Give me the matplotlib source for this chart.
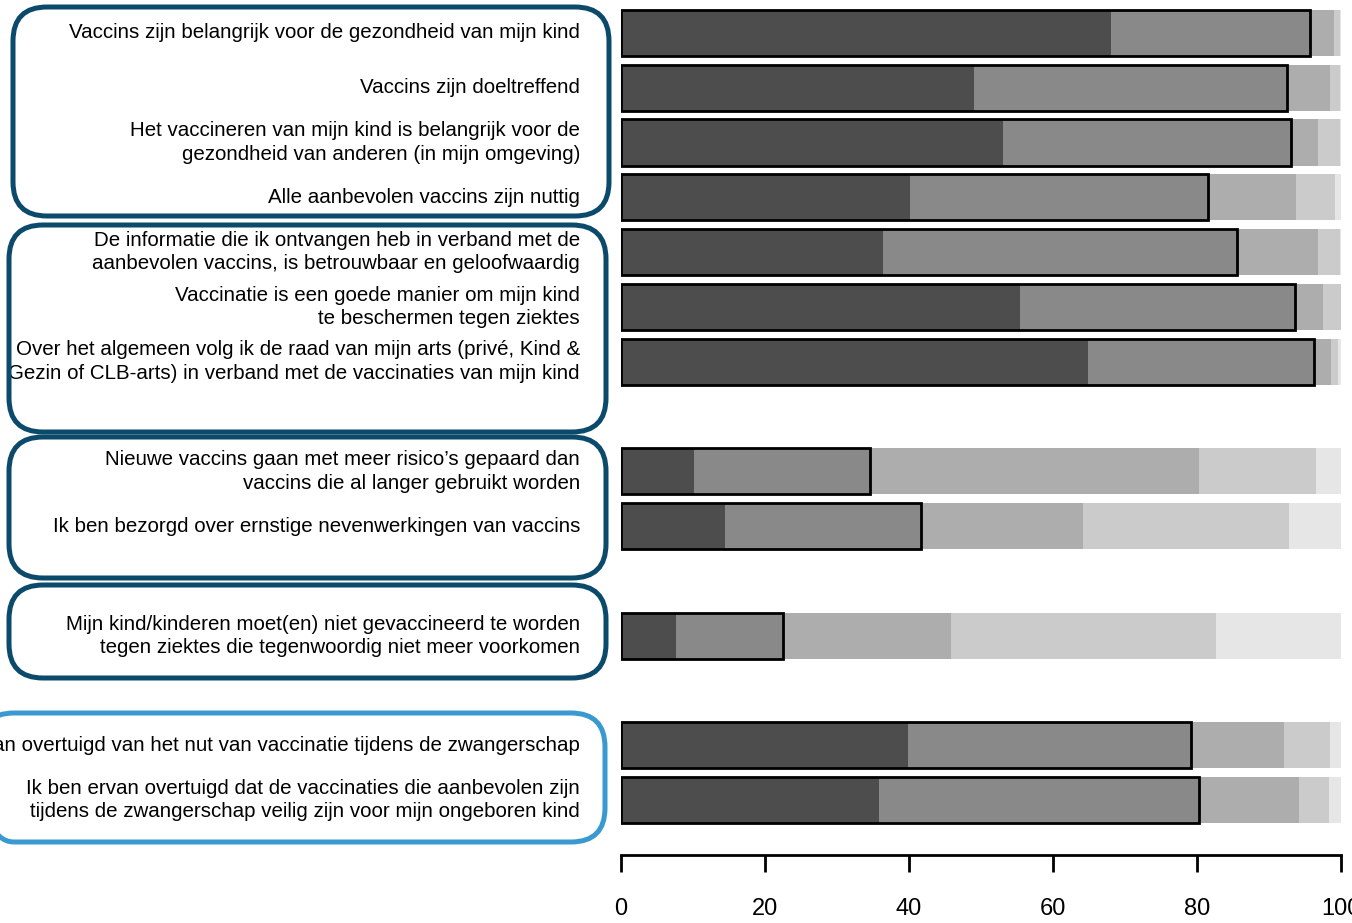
import numpy as np
import matplotlib.pyplot as plt
from matplotlib.patches import FancyBboxPatch

# statements (top to bottom)
labels = [
    "Vaccins zijn belangrijk voor de gezondheid van mijn kind",
    "Vaccins zijn doeltreffend",
    "Het vaccineren van mijn kind is belangrijk voor de\ngezondheid van anderen (in mijn omgeving)",
    "Alle aanbevolen vaccins zijn nuttig",
    "De informatie die ik ontvangen heb in verband met de\naanbevolen vaccins, is betrouwbaar en geloofwaardig",
    "Vaccinatie is een goede manier om mijn kind\nte beschermen tegen ziektes",
    "Over het algemeen volg ik de raad van mijn arts (privé, Kind &\nGezin of CLB-arts) in verband met de vaccinaties van mijn kind",
    "Nieuwe vaccins gaan met meer risico’s gepaard dan\nvaccins die al langer gebruikt worden",
    "Ik ben bezorgd over ernstige nevenwerkingen van vaccins",
    "Mijn kind/kinderen moet(en) niet gevaccineerd te worden\ntegen ziektes die tegenwoordig niet meer voorkomen",
    "Ik ben ervan overtuigd van het nut van vaccinatie tijdens de zwangerschap",
    "Ik ben ervan overtuigd dat de vaccinaties die aanbevolen zijn\ntijdens de zwangerschap veilig zijn voor mijn ongeboren kind",
]
slots = [0, 1, 2, 3, 4, 5, 6, 8, 9, 11, 13, 14]

# percentages: helemaal akkoord, akkoord, neutraal, niet akkoord, helemaal niet akkoord
s1 = [68.1, 49.0, 53.0, 40.1, 36.4, 55.4, 64.8, 10.1, 14.5, 7.7, 39.8, 35.9]
s2 = [27.6, 43.5, 40.0, 41.4, 49.2, 38.2, 31.5, 24.5, 27.1, 14.8, 39.3, 44.4]
s3 = [3.3, 6.0, 3.8, 12.2, 11.2, 3.9, 2.3, 45.7, 22.6, 23.3, 13.0, 13.8]
s4 = [0.8, 1.3, 3.0, 5.5, 3.0, 2.5, 1.0, 16.2, 28.6, 36.9, 6.4, 4.2]
s5 = [0.2, 0.2, 0.2, 0.8, 0.2, 0.0, 0.4, 3.5, 7.2, 17.3, 1.5, 1.7]

colors = ['#4d4d4d', '#898989', '#adadad', '#cbcbcb', '#e6e6e6']
font = ['Liberation Sans', 'DejaVu Sans']

fig = plt.figure(figsize=(13.52, 9.23), dpi=100)
ax = fig.add_axes([621/1352, 68/923, 720/1352, 855/923])

y = np.array(slots)
left = np.zeros(len(y))
for vals, c in zip([s1, s2, s3, s4, s5], colors):
    ax.barh(y, vals, left=left, height=0.84, color=c, edgecolor='none')
    left = left + np.array(vals)

# outline around the "agree" part
agree = np.array(s1) + np.array(s2)
ax.barh(y, agree, height=0.84, fill=False, edgecolor='black', lw=2)

for yy, lab in zip(y, labels):
    ax.text(-0.057, yy, lab, transform=ax.get_yaxis_transform(), ha='right', va='center',
            multialignment='right', fontsize=14.8, family=font, linespacing=1.3)

ax.set_xlim(0, 100)
ax.set_ylim(15, -0.6)
ax.set_yticks([])
ax.set_xticks(np.arange(0, 101, 20))
ax.tick_params(axis='x', length=12, width=2, pad=19, labelsize=17)
for t in ax.get_xticklabels():
    t.set_family(font)
for s in ['top', 'right', 'left']:
    ax.spines[s].set_visible(False)
ax.spines['bottom'].set_linewidth(2)

# group boxes, pixel coords from top-left
boxes = [(13, 7, 609, 216, '#0b4a6b'),
         (9, 225, 606, 432, '#0b4a6b'),
         (9, 437, 606, 578, '#0b4a6b'),
         (9, 585, 606, 678, '#0b4a6b'),
         (-20, 713, 605, 842, '#3a9ad0')]
for x0, y0, x1, y1, c in boxes:
    p = FancyBboxPatch((x0/100, (923 - y1)/100), (x1 - x0)/100, (y1 - y0)/100,
                       boxstyle="round,pad=0,rounding_size=0.34",
                       transform=fig.dpi_scale_trans, fill=False, ec=c, lw=3.6)
    fig.add_artist(p)

fig.savefig('out.png', dpi=100)
